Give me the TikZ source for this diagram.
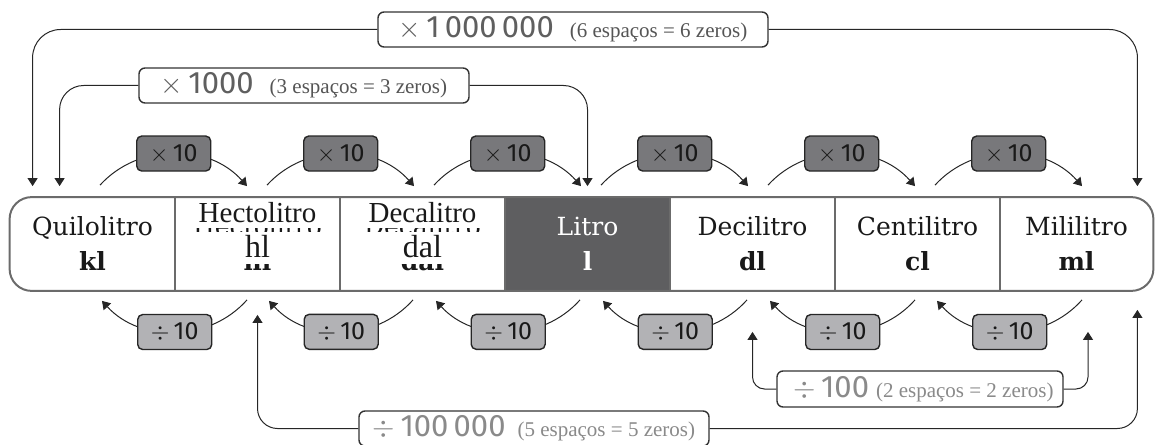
\documentclass[tikz,border=0pt]{standalone}
\usepackage{fontspec}
\setmainfont{DejaVu Serif}
\newfontfamily\numfont{Fira Sans}
\newfontfamily\patchfont{Liberation Serif}
\usetikzlibrary{arrows.meta,calc}
\definecolor{mulfill}{HTML}{78787B}
\definecolor{divfill}{HTML}{B2B2B5}
\definecolor{litrofill}{HTML}{5E5E60}
\definecolor{barline}{HTML}{6B6B6B}
\definecolor{mulgray}{HTML}{5F5F5F}
\definecolor{divgray}{HTML}{8A8A8A}
\definecolor{parengray}{HTML}{555555}
\newcommand{\opsign}[2]{{\fontsize{#1}{#1}\selectfont$#2$}}
\newcommand{\parennote}[1]{{\patchfont\fontsize{10.5}{12}\selectfont #1}}

\begin{document}
\begin{tikzpicture}[x=0.5pt,y=-0.5pt]
	\tikzstyle{Cell} = [rectangle, minimum width=82.5pt, minimum height=46.5pt, inner sep=0pt, align=center, text=black!90, font=\fontsize{12.5}{17.5}\selectfont]
	\tikzstyle{MulTag} = [rectangle, rounded corners=2.5pt, minimum width=37pt, minimum height=17.5pt, inner sep=0pt, draw=black!85, line width=0.7pt, fill=mulfill, text=black!90, font=\numfont\fontsize{12.5}{14}\selectfont]
	\tikzstyle{DivTag} = [MulTag, fill=divfill]
	\tikzstyle{Jump} = [rectangle, rounded corners=3pt, minimum height=17.5pt, inner sep=0pt, draw=black!80, line width=0.7pt, fill=white]
	\tikzstyle{Patch} = [fill=white, inner sep=0pt, minimum width=66pt, anchor=base, text=black!90]
	\tikzstyle{arrow} = [->, >={Triangle[length=4pt,width=5pt]}, line width=0.5pt, black!85]
	\tikzstyle{BarLine} = [line width=1pt, barline]

	\useasboundingbox (0,0) rectangle (1155,444);

	% units
	\node (kilo) [Cell] at (92.5,244) {Quilolitro\\\textbf{kl}};
	\node (hecto) [Cell] at (257.5,244) {Hectolitro\\\textbf{hl}};
	\node (deca) [Cell] at (422.5,244) {Decalitro\\\textbf{dal}};
	\node (litro) [Cell, fill=litrofill, text=white] at (587.5,244) {Litro\\\textbf{l}};
	\node (deci) [Cell] at (752.5,244) {Decilitro\\\textbf{dl}};
	\node (centi) [Cell] at (917.5,244) {Centilitro\\\textbf{cl}};
	\node (mili) [Cell, minimum width=76.5pt] at (1076.5,244) {Mililitro\\\textbf{ml}};

	% labels pasted over the old ones
	\node (hectofix) [Patch, text height=12pt, text depth=3pt, font=\patchfont\fontsize{14.5}{15}\selectfont] at (257.5,222) {Hectolitro};
	\node (hlfix) [Patch, text height=12.5pt, text depth=3.5pt, font=\patchfont\fontsize{16}{16}\selectfont] at (257.5,257) {hl};
	\node (decafix) [Patch, text height=12pt, text depth=3pt, font=\patchfont\fontsize{14.5}{15}\selectfont] at (422.5,222) {Decalitro};
	\node (dalfix) [Patch, text height=12.5pt, text depth=3.5pt, font=\patchfont\fontsize{16}{16}\selectfont] at (422.5,257) {dal};

	\draw [BarLine, rounded corners=11pt] (kilo.north west) rectangle (mili.south east);
	\foreach \c in {kilo,hecto,deca,litro,deci,centi}
		\draw [BarLine] (\c.north east) -- (\c.south east);

	% one step at a time
	\foreach \a/\b/\s/\e [count=\i] in {kilo/hecto/7.5/-10.5, hecto/deca/9.5/-8.5, deca/litro/11.5/-6.5, litro/deci/13.5/-4.5, deci/centi/15.5/-2.5, centi/mili/17.5/5.5}
		\draw [arrow] ($(\a.north)+(\s,-12)$) to[bend left=48] node[MulTag] (mul\i) {\opsign{12}{\times}\,10} ($(\b.north)+(\e,-11)$);
	\foreach \a/\b/\s/\e [count=\i] in {hecto/kilo/-10.5/9.5, deca/hecto/-9.5/11.5, litro/deca/-7.5/13.5, deci/litro/-5.5/15.5, centi/deci/-2.5/17.5, mili/centi/5.5/19.5}
		\draw [arrow] ($(\a.south)+(\s,9)$) to[bend left=48] node[DivTag] (div\i) {\opsign{12}{\div}\,10} ($(\b.south)+(\e,10)$);

	% jumps over several steps
	\node (times1M) [Jump, minimum width=195pt] at (573,29.5) {{\numfont\fontsize{15.5}{18}\selectfont\color{mulgray}\opsign{14}{\times}\,1\,000\,000}\hspace{8pt}{\color{parengray}\parennote{(6 espaços = 6 zeros)}}\hspace{11.5pt}};
	\node (times1K) [Jump, minimum width=165pt] at (304,85.5) {{\numfont\fontsize{15.5}{18}\selectfont\color{mulgray}\opsign{14}{\times}\,1000}\hspace{8pt}{\color{parengray}\parennote{(3 espaços = 3 zeros)}}\hspace{6.5pt}};
	\node (div100K) [Jump, minimum width=175pt] at (534,428.5) {{\numfont\fontsize{15.5}{18}\selectfont\color{divgray}\opsign{14}{\div}\,100\,000}\hspace{6pt}{\color{divgray}\parennote{(5 espaços = 5 zeros)}}};
	\node (div100) [Jump, minimum width=143pt, minimum height=18pt] at (920,389) {\hspace{3.5pt}{\numfont\fontsize{15.5}{18}\selectfont\color{divgray}\opsign{14}{\div}\,100}\hspace{3.5pt}{\color{divgray}\parennote{(2 espaços = 2 zeros)}}};

	\draw [arrow, rounded corners=14pt] (times1M.west) -| ($(kilo.north west)+(23,-11)$);
	\draw [arrow, rounded corners=14pt] (times1M.east) -| ($(mili.north east)+(-16,-11)$);
	\draw [arrow, rounded corners=12pt] (times1K.west) -| ($(kilo.north west)+(50,-11)$);
	\draw [arrow, rounded corners=12pt] (times1K.east) -| ($(litro.north)+(0,-11)$);
	\draw [arrow, rounded corners=10pt] (div100K.west) -| ($(hecto.south)+(0,24)$);
	\draw [arrow, rounded corners=10pt] (div100K.east) -| ($(mili.south east)+(-16,19)$);
	\draw [arrow, rounded corners=6pt] (div100.west) -| ($(deci.south)+(0,41)$);
	\draw [arrow, rounded corners=6pt] (div100.east) -| ($(mili.south)+(11.5,41)$);
\end{tikzpicture}
\end{document}
